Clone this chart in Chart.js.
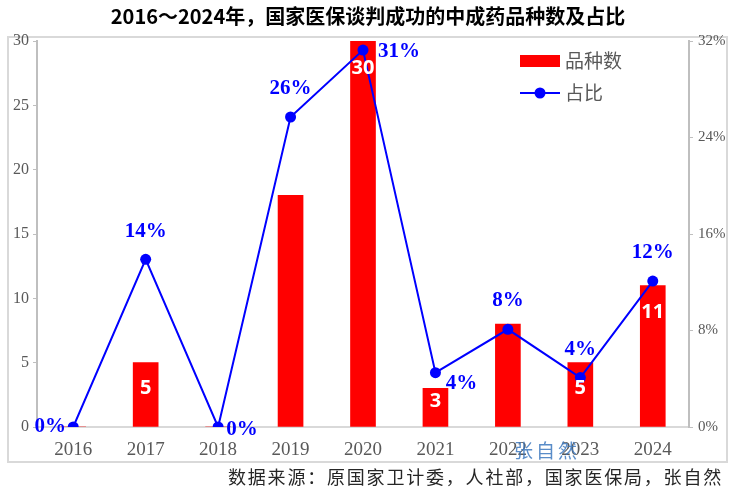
<!DOCTYPE html>
<html><head><meta charset="utf-8">
<script src="https://cdn.jsdelivr.net/npm/chart.js@4/dist/chart.umd.min.js"></script>
<style>html,body{margin:0;padding:0;background:#fff}#wrap{width:735px;height:492px;position:relative}</style>
</head><body><div id="wrap"><canvas id="c" width="735" height="492"></canvas></div>
<script>
const categories = ['2016','2017','2018','2019','2020','2021','2022','2023','2024'];
const varietyCounts = [0,5,0,18,30,3,8,5,11];
const shareValues = [0,0.139,0,0.257,0.3125,0.045,0.081,0.041,0.121];
const shareLabels = ['0%','14%','0%','26%','31%','4%','8%','4%','12%'];
const barLabels = ['','5','','','30','3','','5','11'];
const leftTicks = [0,5,10,15,20,25,30];
const rightTicks = [0,0.08,0.16,0.24,0.32];
const titleText = '2016～2024年，国家医保谈判成功的中成药品种数及占比';
const sourceText = '数据来源：原国家卫计委，人社部，国家医保局，张自然';
const watermarkText = '张自然';
const seriesNames = ['品种数','占比'];

// label offsets relative to the point [dx, dy]
const shareLabelOffsets = [[-23,0],[0,-28],[24,3],[0,-28],[36,2],[26,11],[0,-29],[0,-28],[0,-28]];

const overlay = {
  id:'overlay',
  beforeDraw(chart){
    const ctx = chart.ctx;
    ctx.save();
    ctx.fillStyle='#fff';
    ctx.fillRect(0,0,chart.width,chart.height);
    ctx.strokeStyle='#d9d9d9';
    ctx.lineWidth=2;
    ctx.strokeRect(8,37,719,425);
    ctx.restore();
  },
  afterDatasetsDraw(chart){
    const ctx = chart.ctx;
    ctx.save();
    const bm = chart.getDatasetMeta(0);
    ctx.font = 'bold 20px "Noto Sans", "DejaVu Sans", sans-serif';
    ctx.fillStyle = '#fff';
    ctx.textAlign='center'; ctx.textBaseline='middle';
    bm.data.forEach((el,i)=>{
      if(!barLabels[i]) return;
      const h = el.base - el.y;
      const off = Math.min(27, h/2 - 6);
      ctx.fillText(barLabels[i], el.x, el.y + off);
    });
    const lm = chart.getDatasetMeta(1);
    ctx.font = 'bold 21px "Liberation Serif", "DejaVu Serif", serif';
    ctx.fillStyle = '#0000ff';
    lm.data.forEach((el,i)=>{
      const o = shareLabelOffsets[i];
      ctx.fillText(shareLabels[i], el.x + o[0], el.y + o[1]);
    });
    ctx.restore();
  },
  afterDraw(chart){
    const ctx = chart.ctx;
    ctx.save();
    ctx.font = 'bold 20px "Noto Sans CJK SC", sans-serif';
    ctx.fillStyle = '#000';
    ctx.textAlign='center'; ctx.textBaseline='middle';
    ctx.fillText(titleText, 368, 16);
    ctx.fillStyle='#ff0000';
    ctx.fillRect(520,55,40,12);
    ctx.strokeStyle='#0000ff'; ctx.lineWidth=2;
    ctx.beginPath(); ctx.moveTo(520,93); ctx.lineTo(560,93); ctx.stroke();
    ctx.fillStyle='#0000ff';
    ctx.beginPath(); ctx.arc(540,93,5.5,0,Math.PI*2); ctx.fill();
    ctx.font = '19px "Noto Sans CJK SC", sans-serif';
    ctx.fillStyle='#595959';
    ctx.textAlign='left';
    ctx.fillText(seriesNames[0], 565, 61);
    ctx.fillText(seriesNames[1], 565, 93);
    ctx.font = '19px "Noto Sans CJK SC", sans-serif';
    ctx.fillStyle='rgba(60,120,190,0.85)';
    ctx.textAlign='center';
    if ('letterSpacing' in ctx) ctx.letterSpacing='3px';
    ctx.fillText(watermarkText, 547, 451);
    ctx.font = '18px "Noto Sans CJK SC", sans-serif';
    ctx.fillStyle='#262626';
    ctx.textAlign='right';
    if ('letterSpacing' in ctx) ctx.letterSpacing='1.8px';
    ctx.fillText(sourceText, 723, 477);
    ctx.restore();
  }
};

new Chart(document.getElementById('c'), {
  data:{
    labels: categories,
    datasets:[
      {type:'bar', label:seriesNames[0], data:varietyCounts, backgroundColor:'#ff0000', borderWidth:0, yAxisID:'y', barThickness:25, order:2},
      {type:'line', label:seriesNames[1], data:shareValues, borderColor:'#0000ff', backgroundColor:'#0000ff', borderWidth:2, pointRadius:5.5, pointHoverRadius:5.5, pointBackgroundColor:'#0000ff', pointBorderWidth:0, yAxisID:'y1', tension:0, order:1}
    ]
  },
  options:{
    responsive:false, animation:false, devicePixelRatio:1,
    layout:{padding:{top:41,left:9,right:9,bottom:30}},
    plugins:{legend:{display:false}, tooltip:{enabled:false}, title:{display:false}},
    scales:{
      x:{
        grid:{display:false, drawTicks:false},
        border:{display:true,color:'#d9d9d9',width:2},
        ticks:{color:'#595959', font:{family:'"Liberation Serif", serif', size:19}, padding:12},
        afterFit(s){ s.height = 35; }
      },
      y:{
        position:'left', min:0, max:30,
        afterBuildTicks(s){ s.ticks = leftTicks.map(v=>({value:v})); },
        grid:{display:true, drawOnChartArea:false, drawTicks:true, tickLength:4, color:'#bfbfbf', tickWidth:1},
        border:{display:true,color:'#bfbfbf',width:2},
        ticks:{color:'#595959', font:{family:'"Liberation Serif", serif', size:16}, padding:4},
        afterFit(s){ s.width = 28; }
      },
      y1:{
        position:'right', min:0, max:0.32,
        afterBuildTicks(s){ s.ticks = rightTicks.map(v=>({value:v})); },
        grid:{display:true, drawOnChartArea:false, drawTicks:true, tickLength:4, color:'#bfbfbf', tickWidth:1},
        border:{display:true,color:'#bfbfbf',width:2},
        ticks:{color:'#595959', font:{family:'"Liberation Serif", serif', size:15}, padding:5,
          callback:(v)=>Math.round(v*100)+'%'},
        afterFit(s){ s.width = 37; }
      }
    }
  },
  plugins:[overlay]
});
</script></body></html>
